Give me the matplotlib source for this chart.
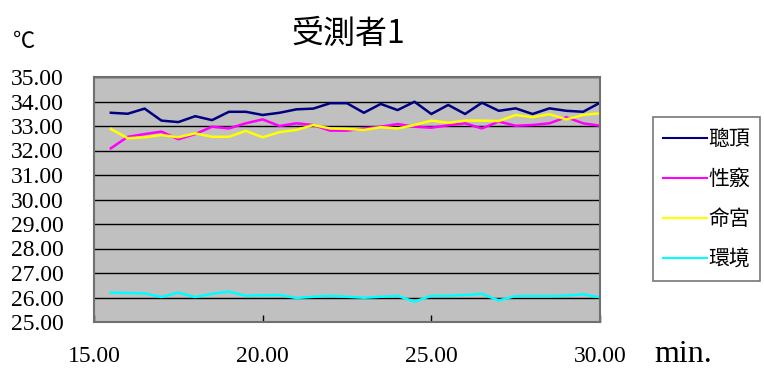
import matplotlib
matplotlib.use("Agg")
import matplotlib.pyplot as plt

plt.rcParams['font.family'] = 'Liberation Serif'
CJK = ['Noto Sans CJK TC', 'DejaVu Sans']

# time (min)
minutes = [15.5, 16.0, 16.5, 17.0, 17.5, 18.0, 18.5, 19.0, 19.5, 20.0,
           20.5, 21.0, 21.5, 22.0, 22.5, 23.0, 23.5, 24.0, 24.5, 25.0,
           25.5, 26.0, 26.5, 27.0, 27.5, 28.0, 28.5, 29.0, 29.5, 30.0]

# temperatures (C)
congding = [33.54, 33.50, 33.71, 33.22, 33.16, 33.40, 33.24, 33.58, 33.58, 33.45,
            33.54, 33.68, 33.71, 33.93, 33.93, 33.54, 33.90, 33.65, 33.99, 33.49,
            33.86, 33.49, 33.95, 33.62, 33.72, 33.49, 33.72, 33.62, 33.58, 33.95]
xingqiao = [32.09, 32.56, 32.67, 32.77, 32.46, 32.67, 32.97, 32.90, 33.11, 33.27,
            33.00, 33.11, 33.04, 32.81, 32.81, 32.90, 32.97, 33.08, 32.97, 32.93,
            33.03, 33.11, 32.90, 33.18, 33.01, 33.04, 33.11, 33.36, 33.11, 33.01]
minggong = [32.88, 32.50, 32.54, 32.63, 32.54, 32.70, 32.56, 32.56, 32.80, 32.54,
            32.75, 32.84, 33.04, 32.90, 32.88, 32.84, 32.95, 32.90, 33.04, 33.22,
            33.13, 33.22, 33.22, 33.20, 33.45, 33.36, 33.48, 33.27, 33.45, 33.52]
huanjing = [26.20, 26.18, 26.17, 26.02, 26.20, 26.02, 26.15, 26.24, 26.07, 26.09,
            26.10, 25.98, 26.03, 26.07, 26.03, 25.99, 26.03, 26.07, 25.83, 26.07,
            26.07, 26.10, 26.15, 25.88, 26.06, 26.06, 26.06, 26.08, 26.13, 26.01]

labels = ['聰頂', '性竅', '命宮', '環境']
colors = ['#000080', '#FF00FF', '#FFFF00', '#00FFFF']
series = [congding, xingqiao, minggong, huanjing]

fig = plt.figure(figsize=(7.64, 3.72), dpi=100)
ax = fig.add_axes([94 / 764, 1 - 322 / 372, (600 - 94) / 764, (322 - 77) / 372])
ax.set_facecolor('#C0C0C0')

for vals, c, lab in zip(series, colors, labels):
    ax.plot(minutes, vals, color=c, lw=1.8, label=lab)

ax.set_xlim(15, 30)
ax.set_ylim(25, 35)
ax.set_xticks([15, 20, 25, 30])
ax.set_yticks(range(25, 36))
ax.xaxis.set_major_formatter(matplotlib.ticker.FormatStrFormatter('%.2f'))
ax.yaxis.set_major_formatter(matplotlib.ticker.FormatStrFormatter('%.2f'))
ax.yaxis.grid(True, color='black', lw=1)
ax.tick_params(axis='x', direction='in', length=5, width=1, pad=17, labelsize=17,
               labelfontfamily='Liberation Serif')
ax.tick_params(axis='y', length=0, pad=22, labelsize=17,
               labelfontfamily='Liberation Serif')
for s in ax.spines.values():
    s.set_color('#707070')
    s.set_linewidth(1.5)

fig.text(348 / 764, 1 - 34 / 372, '受測者1', ha='center', va='center', fontsize=23,
         family=CJK)
fig.text(24 / 764, 1 - 41 / 372, '℃', ha='center', va='center', fontsize=16,
         family=CJK)
fig.text(683 / 764, 1 - 355 / 372, 'min.', ha='center', va='center', fontsize=23)

leg = fig.legend(loc='center left', bbox_to_anchor=(653 / 764, 1 - 199 / 372),
                 frameon=True, fancybox=False, handlelength=2.1,
                 handletextpad=0.05, labelspacing=0.87, borderpad=0.5,
                 borderaxespad=0, prop={'family': CJK, 'size': 15})
leg.get_frame().set_edgecolor('#555555')
leg.get_frame().set_linewidth(1.2)
for h in leg.get_lines():
    h.set_linewidth(1.5)

fig.savefig('out.png', dpi=100)
